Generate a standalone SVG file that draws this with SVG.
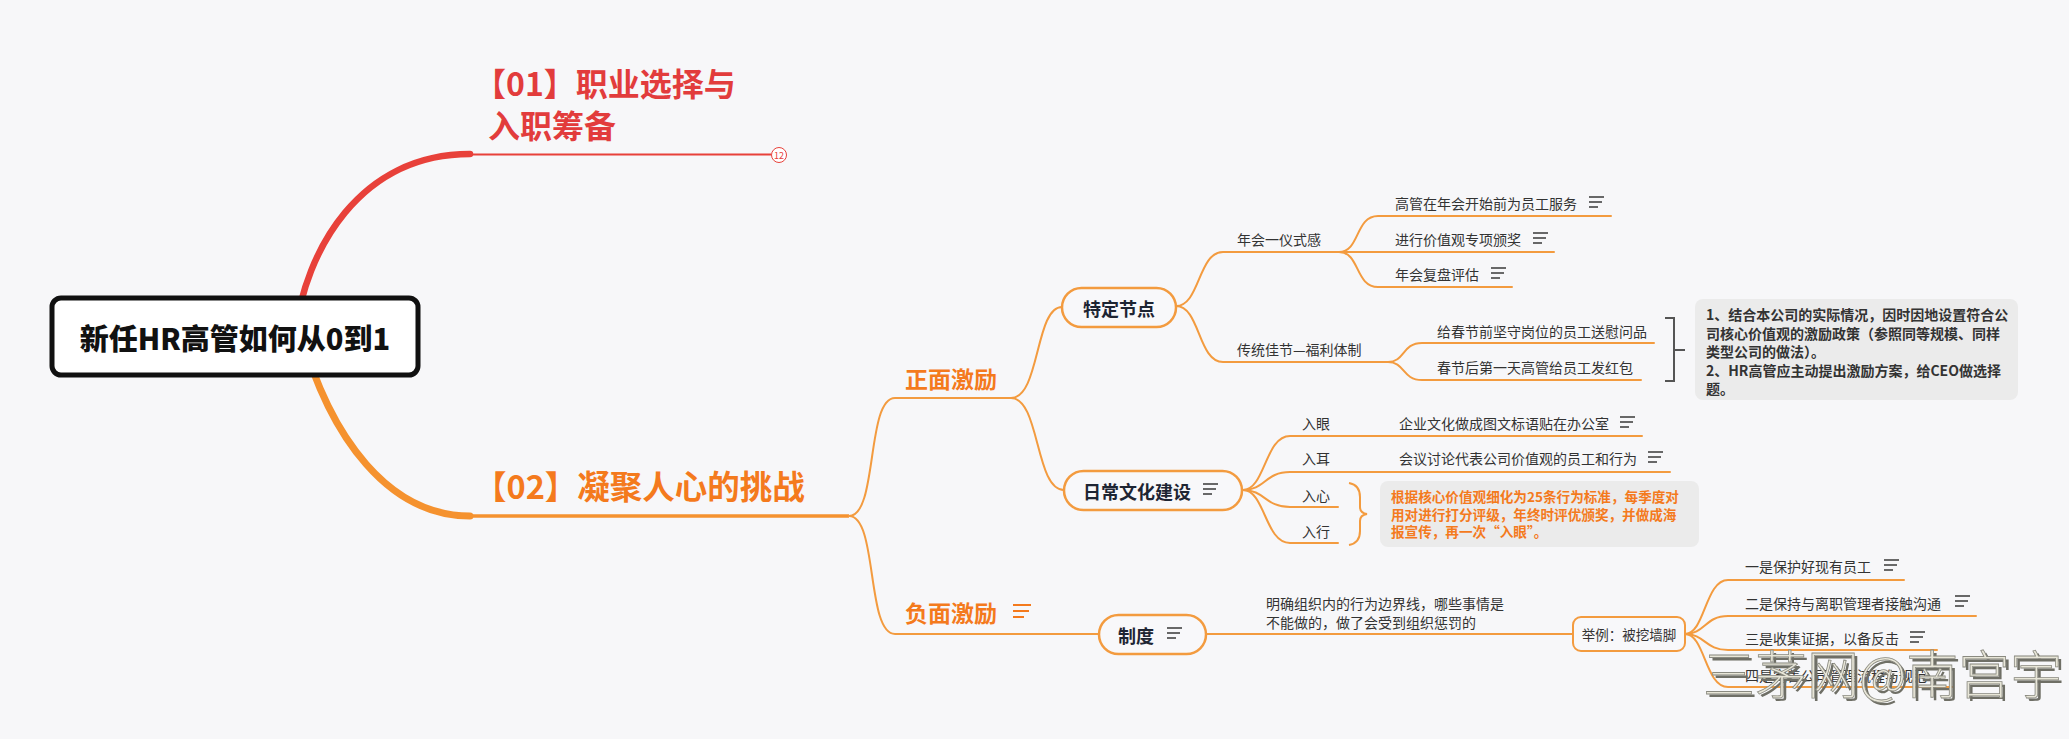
<svg xmlns="http://www.w3.org/2000/svg" xmlns:xlink="http://www.w3.org/1999/xlink" width="2069" height="739" viewBox="0 0 2069 739">
<defs>
<style>
.t{font-family:"Noto Sans CJK SC","Noto Sans",sans-serif;dominant-baseline:central}
.leaf{font-size:14px;fill:#333}
.node{font-size:18px;font-weight:bold;fill:#1e2533}
.orange{fill:#f47a1d;font-weight:bold}
.ln{fill:none;stroke:#f39b3f;stroke-width:2;stroke-linecap:round}
.box{fill:#f8f8fa;stroke:#f39b3f;stroke-width:2.5}
.ico{stroke:#444;stroke-width:1.6;fill:none}
.note{fill:#ebebeb}
</style>
<g id="icon" class="ico">
<line x1="0" y1="0" x2="15" y2="0"/>
<line x1="0" y1="5" x2="13" y2="5"/>
<line x1="0" y1="10" x2="9" y2="10"/>
</g>
</defs>
<rect width="2069" height="739" fill="#f7f7f9"/>

<g id="connectors">
<path d="M295,335 C305,250 360,154 470,154" fill="none" stroke="#e8413a" stroke-width="6.5" stroke-linecap="round"/>
<line x1="468" y1="154.5" x2="771" y2="154.5" stroke="#e8413a" stroke-width="2"/>
<path d="M300,330 C330,440 390,516 470,516" fill="none" stroke="#f5922f" stroke-width="7" stroke-linecap="round"/>
<line x1="466" y1="516" x2="849" y2="516" stroke="#f5922f" stroke-width="3.5"/>
<path class="ln" d="M849,516 C878,516 866,398 895,398 L1011,398"/>
<path class="ln" d="M849,516 C878,516 866,634 895,634 L1099,634"/>
<path class="ln" d="M1011,398 C1040,398 1035,307 1062,307"/>
<path class="ln" d="M1011,398 C1040,398 1035,490 1064,490"/>
<path class="ln" d="M1176,306 C1200,306 1198,252 1223,252 L1339,252"/>
<path class="ln" d="M1176,306 C1200,306 1198,362 1223,362 L1388,362"/>
<path class="ln" d="M1339,252 C1360,252 1355,216 1378,216 L1611,216"/>
<path class="ln" d="M1339,252 L1554,252"/>
<path class="ln" d="M1339,252 C1360,252 1355,287 1378,287 L1512,287"/>
<path class="ln" d="M1388,362 C1405,362 1402,343 1422,343 L1654,343"/>
<path class="ln" d="M1388,362 C1405,362 1402,380 1422,380 L1641,380"/>
<path class="ln" d="M1243,490 C1265,490 1265,436 1290,436 L1642,436"/>
<path class="ln" d="M1243,490 C1265,490 1265,472 1290,472 L1670,472"/>
<path class="ln" d="M1243,490 C1265,490 1265,507 1290,507 L1338,507"/>
<path class="ln" d="M1243,490 C1265,490 1265,543 1290,543 L1338,543"/>
<path class="ln" d="M1206,634 L1573,634"/>
<path class="ln" d="M1685,634 C1705,634 1705,580 1728,580 L1904,580"/>
<path class="ln" d="M1685,634 C1705,634 1705,616 1728,616 L1976,616"/>
<path class="ln" d="M1685,634 C1705,634 1705,650 1728,650 L1937,650"/>
<path class="ln" d="M1685,634 C1705,634 1705,687 1728,687 L1953,687"/>
<path d="M1349,483 Q1360,485 1360,497 L1360,507 Q1360,513 1367,514 Q1360,515 1360,521 L1360,531 Q1360,543 1349,545" fill="none" stroke="#f39b3f" stroke-width="2"/>
<path d="M1665,318 L1674,318 L1674,381 L1665,381 M1674,350 L1685,350" fill="none" stroke="#555" stroke-width="2"/>
</g>

<g id="root">
<rect x="52" y="298" width="366" height="77" rx="9" fill="#fff" stroke="#111" stroke-width="5"/>
<text class="t" x="235" y="337" text-anchor="middle" font-size="29" font-weight="900" fill="#111">新任HR高管如何从0到1</text>
</g>

<g id="n01">
<text class="t" x="474" y="82" font-size="32" font-weight="bold" fill="#e23c3c">【01】职业选择与</text>
<text class="t" x="488" y="124" font-size="32" font-weight="bold" fill="#e23c3c">入职筹备</text>
<circle cx="779" cy="155" r="7.5" fill="#fff" stroke="#e8413a" stroke-width="1"/>
<text class="t" x="779" y="155.5" text-anchor="middle" font-size="9" fill="#e8413a">12</text>
</g>

<g id="n02">
<text class="t orange" x="474" y="484" font-size="32.5">【02】凝聚人心的挑战</text>
</g>

<g id="pos">
<text class="t orange" x="905" y="378" font-size="23">正面激励</text>
</g>
<g id="neg">
<text class="t orange" x="905" y="612" font-size="23">负面激励</text>
<g transform="translate(1013,605)" stroke="#f47a1d" stroke-width="2" fill="none"><line x1="0" y1="0" x2="18" y2="0"/><line x1="0" y1="6" x2="16" y2="6"/><line x1="0" y1="12" x2="11" y2="12"/></g>
</g>

<g id="tdjd">
<rect class="box" x="1062" y="288" width="114" height="39" rx="19.5"/>
<text class="t node" x="1119" y="307.5" text-anchor="middle">特定节点</text>
</g>

<g id="rcwh">
<rect class="box" x="1064" y="471" width="178" height="39" rx="19.5"/>
<text class="t node" x="1083" y="490.5">日常文化建设</text>
<use xlink:href="#icon" x="1203" y="484"/>
</g>

<g id="zd">
<rect class="box" x="1099" y="615" width="107" height="39" rx="19.5"/>
<text class="t node" x="1118" y="634.5">制度</text>
<use xlink:href="#icon" x="1167" y="628"/>
</g>

<g id="nh"><text class="t leaf" x="1237" y="239">年会一仪式感</text></g>
<g id="ct"><text class="t leaf" x="1237" y="349">传统佳节—福利体制</text></g>
<g id="l1"><text class="t leaf" x="1395" y="203">高管在年会开始前为员工服务</text><use xlink:href="#icon" x="1589" y="197"/></g>
<g id="l2"><text class="t leaf" x="1395" y="239">进行价值观专项颁奖</text><use xlink:href="#icon" x="1533" y="233"/></g>
<g id="l3"><text class="t leaf" x="1395" y="274">年会复盘评估</text><use xlink:href="#icon" x="1491" y="268"/></g>
<g id="l4"><text class="t leaf" x="1437" y="331">给春节前坚守岗位的员工送慰问品</text></g>
<g id="l5"><text class="t leaf" x="1437" y="367">春节后第一天高管给员工发红包</text></g>

<g id="note1">
<rect class="note" x="1695" y="299" width="323" height="101" rx="8"/>
<text class="t" font-size="14" font-weight="bold" fill="#333">
<tspan x="1706" y="314">1、结合本公司的实际情况，因时因地设置符合公</tspan>
<tspan x="1706" y="332.5">司核心价值观的激励政策（参照同等规模、同样</tspan>
<tspan x="1706" y="351">类型公司的做法）。</tspan>
<tspan x="1706" y="369.5">2、HR高管应主动提出激励方案，给CEO做选择</tspan>
<tspan x="1706" y="388">题。</tspan>
</text>
</g>

<g id="ry"><text class="t leaf" x="1302" y="423">入眼</text></g>
<g id="re"><text class="t leaf" x="1302" y="458">入耳</text></g>
<g id="rx"><text class="t leaf" x="1302" y="495">入心</text></g>
<g id="rxg"><text class="t leaf" x="1302" y="531">入行</text></g>
<g id="l6"><text class="t leaf" x="1399" y="423">企业文化做成图文标语贴在办公室</text><use xlink:href="#icon" x="1620" y="417"/></g>
<g id="l7"><text class="t leaf" x="1399" y="458">会议讨论代表公司价值观的员工和行为</text><use xlink:href="#icon" x="1648" y="452"/></g>

<g id="note2">
<rect class="note" x="1380" y="481" width="319" height="66" rx="8"/>
<text class="t" font-size="13.6" font-weight="bold" fill="#f47a1d">
<tspan x="1391" y="496">根据核心价值观细化为25条行为标准，每季度对</tspan>
<tspan x="1391" y="513.5">用对进行打分评级，年终时评优颁奖，并做成海</tspan>
<tspan x="1391" y="531">报宣传，再一次“入眼”。</tspan>
</text>
</g>

<g id="mq"><text class="t leaf"><tspan x="1266" y="602.5">明确组织内的行为边界线，哪些事情是</tspan><tspan x="1266" y="622">不能做的，做了会受到组织惩罚的</tspan></text></g>

<g id="jl">
<rect x="1573" y="617" width="112" height="34" rx="8" fill="#f8f8fa" stroke="#f39b3f" stroke-width="2"/>
<text class="t" x="1629" y="634" text-anchor="middle" font-size="13.5" fill="#333">举例：被挖墙脚</text>
</g>

<g id="w1"><text class="t leaf" x="1745" y="566">一是保护好现有员工</text><use xlink:href="#icon" x="1884" y="560"/></g>
<g id="w2"><text class="t leaf" x="1745" y="602.5">二是保持与离职管理者接触沟通</text><use xlink:href="#icon" x="1955" y="596"/></g>
<g id="w3"><text class="t leaf" x="1745" y="638">三是收集证据，以备反击</text><use xlink:href="#icon" x="1910" y="632"/></g>
<g id="w4"><text class="t leaf" x="1745" y="675">四是完善公司管理流程与规范</text></g>

<g id="watermark">
<text class="t" x="1706" y="674" font-size="52" font-weight="300" fill="#6f6f66">三茅网@南宫宇</text>
<text class="t" x="1703" y="671" font-size="52" font-weight="300" fill="#e8e6d8" stroke="#8a8a80" stroke-width="0.8">三茅网@南宫宇</text>
</g>
</svg>
